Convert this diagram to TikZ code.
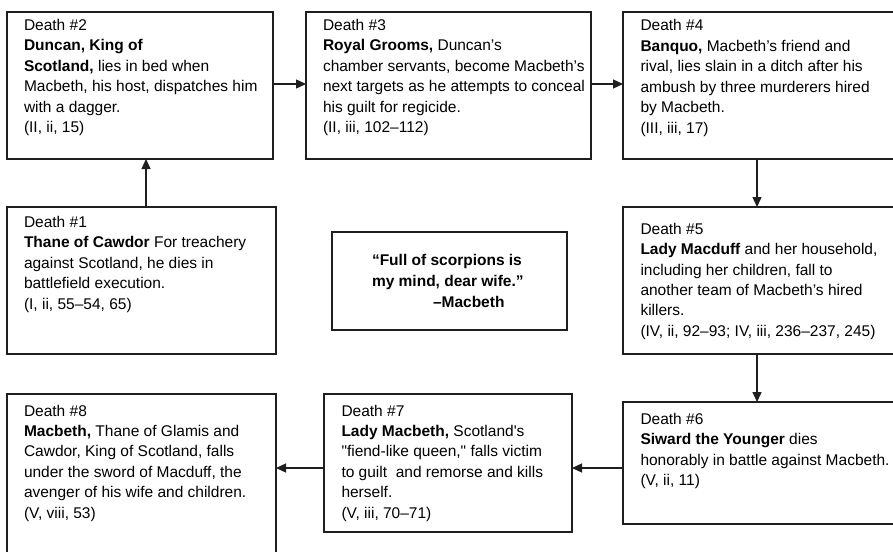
\documentclass[tikz,border=0pt]{standalone}
\usepackage{fontspec}
\setmainfont{Liberation Sans}
\usetikzlibrary{arrows.meta,calc}
\newcommand\dtxt[1]{\begin{minipage}[t]{285pt}\fontsize{15.5}{20.4}\selectfont\raggedright #1\end{minipage}}
\begin{document}
\begin{tikzpicture}[x=1pt,y=-1pt,
  dbox/.style={draw=black!88, line width=1.3pt, rectangle, anchor=north west, inner sep=0pt, outer sep=0pt},
  dtext/.style={anchor=base west, inner sep=0pt, outer sep=0pt},
  arr/.style={draw=black!88, line width=1.3pt, -{Triangle[length=10pt,width=9pt]}}]
\useasboundingbox (0,0) rectangle (893,551);
\clip (0,0) rectangle (893,551);
\fill[white] (0,0) rectangle (893,551);
% boxes
\node[dbox, minimum width=269pt, minimum height=147pt] (b1) at (7,207) {};
\node[dbox, minimum width=266pt, minimum height=147pt] (b2) at (7,12) {};
\node[dbox, minimum width=285pt, minimum height=147pt] (b3) at (306,12) {};
\node[dbox, minimum width=277pt, minimum height=147pt] (b4) at (623,12) {};
\node[dbox, minimum width=277pt, minimum height=147pt] (b5) at (623,207) {};
\node[dbox, minimum width=277pt, minimum height=122pt] (b6) at (623,402) {};
\node[dbox, minimum width=248pt, minimum height=138pt] (b7) at (324,394) {};
\node[dbox, minimum width=269pt, minimum height=166pt] (b8) at (7,394) {};
\node[dbox, minimum width=235pt, minimum height=98pt] (q) at (332,232) {};
% texts
\node[dtext] (t1) at ($(b1.north west)+(17,20.5)$) {\dtxt{Death \#1\\
\textbf{Thane of Cawdor} For treachery\\
against Scotland, he dies in\\
battlefield execution.\\
(I, ii, 55–54, 65)}};
\node[dtext] (t2) at ($(b2.north west)+(17,18.5)$) {\dtxt{Death \#2\\
\textbf{Duncan, King of}\\
\textbf{Scotland,} lies in bed when\\
Macbeth, his host, dispatches him\\
with a dagger.\\
(II, ii, 15)}};
\node[dtext] (t3) at ($(b3.north west)+(17,18.5)$) {\dtxt{Death \#3\\
\textbf{Royal Grooms,} Duncan’s\\
chamber servants, become Macbeth’s\\
next targets as he attempts to conceal\\
his guilt for regicide.\\
(II, iii, 102–112)}};
\node[dtext] (t4) at ($(b4.north west)+(17.5,19)$) {\dtxt{Death \#4\\
\textbf{Banquo,} Macbeth’s friend and\\
rival, lies slain in a ditch after his\\
ambush by three murderers hired\\
by Macbeth.\\
(III, iii, 17)}};
\node[dtext] (t5) at ($(b5.north west)+(17.5,27.3)$) {\dtxt{Death \#5\\
\textbf{Lady Macduff} and her household,\\
including her children, fall to\\
another team of Macbeth’s hired\\
killers.\\
(IV, ii, 92–93; IV, iii, 236–237, 245)}};
\node[dtext] (t6) at ($(b6.north west)+(17.5,22.3)$) {\dtxt{Death \#6\\
\textbf{Siward the Younger} dies\\
honorably in battle against Macbeth.\\
(V, ii, 11)}};
\node[dtext] (t7) at ($(b7.north west)+(17.5,22)$) {\dtxt{Death \#7\\
\textbf{Lady Macbeth,} Scotland\textquotesingle s\\
\textquotedbl fiend-like queen,\textquotedbl{} falls victim\\
to guilt \ and remorse and kills\\
herself.\\
(V, iii, 70–71)}};
\node[dtext] (t8) at ($(b8.north west)+(17,22)$) {\dtxt{Death \#8\\
\textbf{Macbeth,} Thane of Glamis and\\
Cawdor, King of Scotland, falls\\
under the sword of Macduff, the\\
avenger of his wife and children.\\
(V, viii, 53)}};
\node[dtext] (qt) at ($(q.north west)+(40,33)$) {\begin{minipage}[t]{200pt}\fontsize{15.5}{21}\selectfont\bfseries\raggedright
“Full of scorpions is\\
my mind, dear wife.”\\
\hspace*{61pt}–Macbeth\end{minipage}};
% connectors
\draw[arr] ([xshift=4.5pt]b1.north) -- ([xshift=4.5pt]b1.north |- b2.south);
\draw[arr] ([yshift=1.5pt]b2.east) -- ([yshift=1.5pt]b2.east -| b3.west);
\draw[arr] ([yshift=1.5pt]b3.east) -- ([yshift=1.5pt]b3.east -| b4.west);
\draw[arr] ([xshift=-4.5pt]b4.south) -- ([xshift=-4.5pt]b4.south |- b5.north);
\draw[arr] ([xshift=-4.5pt]b5.south) -- ([xshift=-4.5pt]b5.south |- b6.north);
\draw[arr] ([yshift=-5pt]b6.west) -- ([yshift=-5pt]b6.west -| b7.east);
\draw[arr] ([yshift=-5pt]b7.west) -- ([yshift=-5pt]b7.west -| b8.east);
\end{tikzpicture}
\end{document}
